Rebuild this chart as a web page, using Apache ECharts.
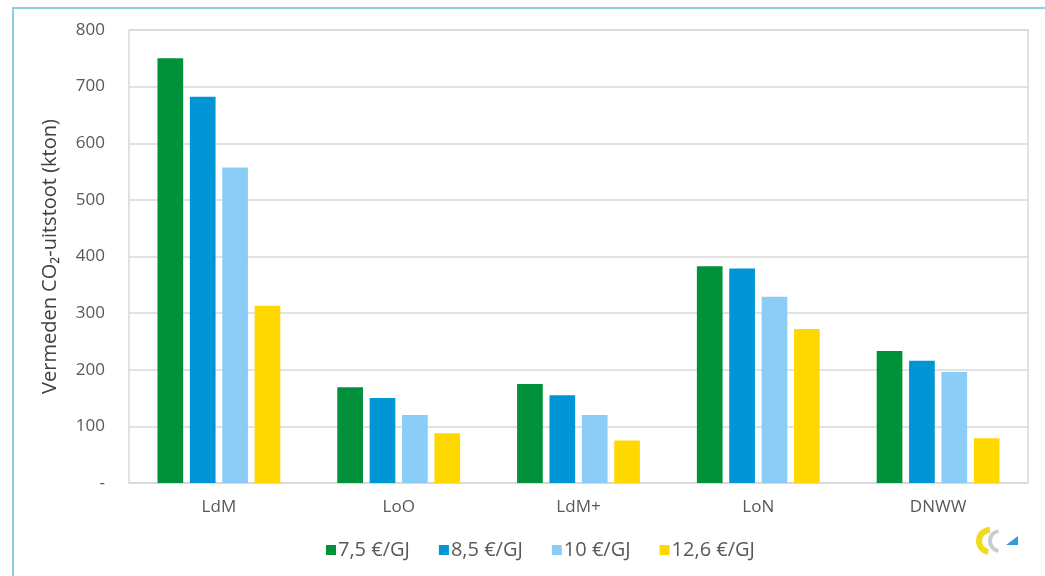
<!DOCTYPE html>
<html>
<head>
<meta charset="utf-8">
<script src="https://cdn.jsdelivr.net/npm/echarts@6/dist/echarts.min.js"></script>
<style>
html,body{margin:0;padding:0;background:#fff;}
#frame{position:absolute;left:12px;top:7px;width:1040px;height:580px;border-left:2px solid #8ccde6;border-top:2px solid #8ccde6;box-sizing:border-box;}
#chart{position:absolute;left:0;top:0;width:1045px;height:576px;}
</style>
</head>
<body>
<div id="frame"></div>
<div id="chart"></div>
<script>
const categories = ['LdM', 'LoO', 'LdM+', 'LoN', 'DNWW'];
const seriesNames = ['7,5 €/GJ', '8,5 €/GJ', '10 €/GJ', '12,6 €/GJ'];
const s75 = [750, 169, 175, 383, 233];
const s85 = [682, 150, 155, 379, 216];
const s10 = [557, 120, 120, 329, 196];
const s126 = [313, 88, 75, 272, 79];
const yTicks = [0, 100, 200, 300, 400, 500, 600, 700, 800];
const colors = ['#00913a', '#0096d6', '#8ccdf7', '#ffd800'];

const chart = echarts.init(document.getElementById('chart'), null, {renderer: 'canvas'});
const font = '"Open Sans", "Noto Sans", sans-serif';
const data = [s75, s85, s10, s126];
chart.setOption({
  animation: false,
  backgroundColor: 'transparent',
  grid: {left: 129, top: 30, right: 17, bottom: 93, show: true, borderColor: '#d9d9d9', borderWidth: 1.5},
  legend: {
    bottom: 11, left: 321,
    itemWidth: 10, itemHeight: 10, itemGap: 29,
    icon: 'rect',
    textStyle: {fontFamily: font, fontSize: 20, color: '#595959', padding: [0, 0, 0, -3]},
    data: seriesNames
  },
  xAxis: {
    type: 'category', data: categories,
    axisLine: {show: true, lineStyle: {color: '#d9d9d9', width: 1.5}},
    axisTick: {show: false},
    axisLabel: {fontFamily: font, fontSize: 17, color: '#595959', margin: 16}
  },
  yAxis: {
    type: 'value', min: yTicks[0], max: yTicks[yTicks.length - 1], interval: 100,
    name: 'Vermeden CO₂-uitstoot (kton)', nameLocation: 'middle', nameGap: 69,
    nameTextStyle: {fontFamily: font, fontSize: 20, color: '#404040'},
    axisLine: {show: false}, axisTick: {show: false},
    splitLine: {lineStyle: {color: '#d9d9d9', width: 1.5}},
    axisLabel: {fontFamily: font, fontSize: 17, color: '#595959', margin: 24,
      formatter: v => v === 0 ? '-' : String(v)}
  },
  series: seriesNames.map((n, i) => ({
    name: n, type: 'bar', data: data[i], barWidth: 25.7, barGap: '26%',
    itemStyle: {color: colors[i]}
  })),
  graphic: [
    {type: 'arc', shape: {cx: 990, cy: 541, r: 11, startAngle: Math.PI * 0.55, endAngle: Math.PI * 1.5}, style: {stroke: '#f0dc1e', lineWidth: 6, fill: null}},
    {type: 'arc', shape: {cx: 1000, cy: 541, r: 10, startAngle: Math.PI * 0.55, endAngle: Math.PI * 1.45}, style: {stroke: '#c9ccd2', lineWidth: 4, fill: null}},
    {type: 'polygon', shape: {points: [[1006, 545], [1018, 545], [1018, 536]]}, style: {fill: '#2e9be0'}}
  ]
});
</script>
</body>
</html>
